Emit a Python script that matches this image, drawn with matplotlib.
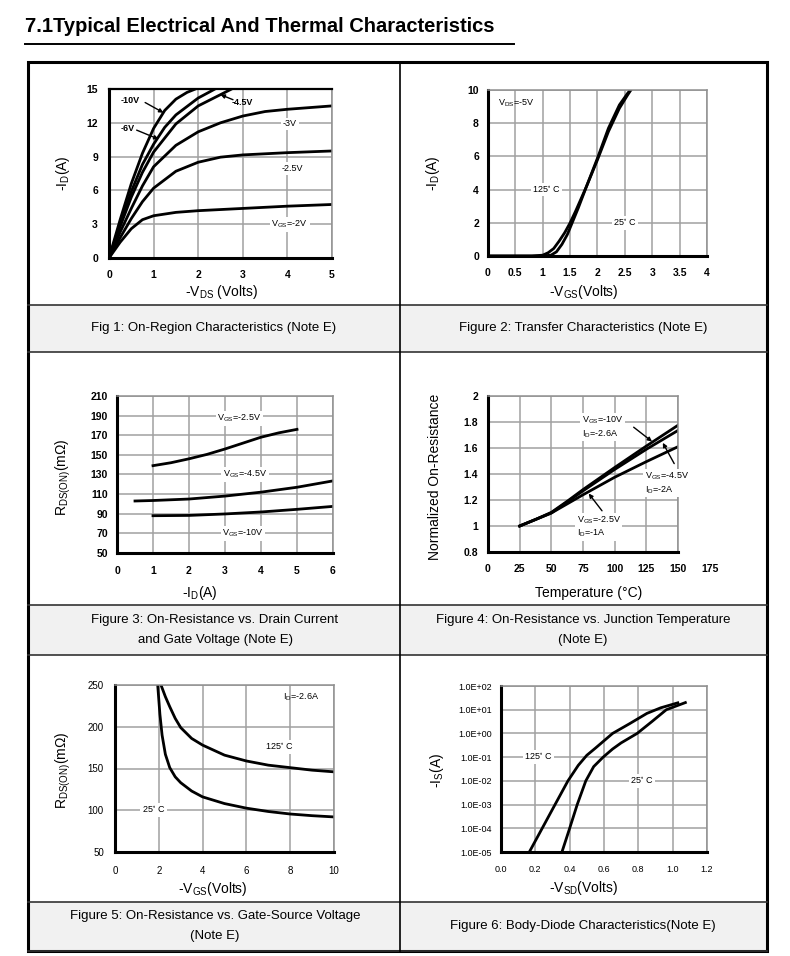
import numpy as np
import matplotlib
matplotlib.use("Agg")
import matplotlib.pyplot as plt
from matplotlib.lines import Line2D
from matplotlib.patches import Rectangle

plt.rcParams['font.family'] = ['Liberation Sans', 'DejaVu Sans']
plt.rcParams['mathtext.default'] = 'regular'

W, H = 790, 956

# ---- data ----
# fig 1: output characteristics, -ID vs -VDS
vds_2v = [0, 0.25, 0.5, 0.75, 1.0, 1.5, 2.0, 3.0, 4.0, 5.0]
id_2v = [0, 1.4, 2.6, 3.4, 3.75, 4.05, 4.2, 4.4, 4.6, 4.75]
vds_25v = [0, 0.25, 0.5, 0.75, 1.0, 1.5, 2.0, 2.5, 3.0, 4.0, 5.0]
id_25v = [0, 1.8, 3.5, 5.0, 6.2, 7.7, 8.5, 8.95, 9.15, 9.35, 9.5]
vds_3v = [0, 0.25, 0.5, 0.75, 1.0, 1.5, 2.0, 2.5, 3.0, 3.5, 4.0, 5.0]
id_3v = [0, 2.3, 4.4, 6.4, 8.1, 10.0, 11.2, 12.0, 12.6, 13.0, 13.2, 13.5]
vds_45v = [0, 0.25, 0.5, 0.75, 1.0, 1.5, 2.0, 2.5, 2.8]
id_45v = [0, 2.8, 5.4, 7.6, 9.4, 11.9, 13.5, 14.5, 15.1]
vds_6v = [0, 0.25, 0.5, 0.75, 1.0, 1.25, 1.5, 2.0, 2.4]
id_6v = [0, 3.0, 5.9, 8.3, 10.1, 11.6, 12.7, 14.2, 15.05]
vds_10v = [0, 0.25, 0.5, 0.75, 1.0, 1.25, 1.5, 1.75, 2.0]
id_10v = [0, 3.4, 6.6, 9.3, 11.5, 13.1, 14.1, 14.7, 15.1]

# fig 2: transfer characteristics
vgs_125 = [0, 0.8, 1.0, 1.1, 1.2, 1.3, 1.4, 1.5, 1.6, 1.8, 2.0, 2.2, 2.4, 2.55, 2.65]
id_125 = [0, 0, 0.05, 0.2, 0.45, 0.9, 1.4, 2.0, 2.7, 4.2, 5.8, 7.5, 8.9, 9.7, 10.2]
vgs_25 = [0, 1.0, 1.15, 1.25, 1.35, 1.45, 1.55, 1.65, 1.8, 2.0, 2.2, 2.4, 2.55, 2.65]
id_25 = [0, 0, 0.05, 0.25, 0.7, 1.3, 2.1, 2.9, 4.2, 5.9, 7.7, 9.1, 9.8, 10.2]

# fig 3: RDS(on) vs drain current
id_a25 = [1, 1.5, 2, 2.5, 3, 3.5, 4, 4.5, 5]
r_a25 = [139, 142, 146, 150.5, 156, 162, 168, 172.5, 176]
id_a45 = [0.5, 1, 2, 3, 4, 5, 6]
r_a45 = [103, 103.5, 105, 108, 112, 117, 123.5]
id_a10 = [1, 2, 3, 4, 5, 6]
r_a10 = [88, 88.3, 89.8, 91.8, 94.5, 97.5]

# fig 4: normalized on-resistance vs temperature
temp = [25, 37.5, 50, 62.5, 75, 100, 125, 150]
rn_10v = [1.0, 1.05, 1.105, 1.19, 1.28, 1.45, 1.615, 1.775]
rn_45v = [1.0, 1.05, 1.10, 1.185, 1.27, 1.435, 1.59, 1.735]
rn_25v = [1.0, 1.05, 1.10, 1.17, 1.24, 1.375, 1.495, 1.61]

# fig 5: RDS(on) vs VGS
vg_125 = [2.1, 2.3, 2.5, 2.75, 3, 3.5, 4, 5, 6, 7, 8, 9, 10]
rg_125 = [250, 236, 224, 210, 199, 186, 178, 166, 159, 154, 151, 148, 146]
vg_25 = [1.95, 2.05, 2.15, 2.3, 2.5, 2.75, 3, 3.5, 4, 5, 6, 7, 8, 9, 10]
rg_25 = [250, 215, 190, 167, 151, 140, 133, 123, 116, 108, 102.5, 98.5, 95.5, 93.5, 92]

# fig 6: body diode
vsd_125 = [0.165, 0.24, 0.305, 0.39, 0.45, 0.5, 0.55, 0.65, 0.75, 0.85, 0.93, 1.03]
is_125 = [1e-5, 1e-4, 7.4e-4, 1e-2, 4.5e-2, 0.12, 0.24, 1.0, 2.6, 7.0, 12, 19.5]
vsd_25 = [0.355, 0.40, 0.444, 0.494, 0.54, 0.595, 0.65, 0.7, 0.793, 0.88, 0.963, 1.074]
is_25 = [1e-5, 1e-4, 1e-3, 1e-2, 4e-2, 0.1, 0.22, 0.4, 1.0, 3.2, 10, 20]
is_decades = list(range(-5, 3))

captions = [
    "Fig 1: On-Region Characteristics (Note E)",
    "Figure 2: Transfer Characteristics (Note E)",
    "Figure 3: On-Resistance vs. Drain Current\nand Gate Voltage (Note E)",
    "Figure 4: On-Resistance vs. Junction Temperature\n(Note E)",
    "Figure 5: On-Resistance vs. Gate-Source Voltage\n(Note E)",
    "Figure 6: Body-Diode Characteristics(Note E)",
]


def fx(x):
    return x / W


def fy(y):
    return 1 - y / H


def make_ax(x0, y0, x1, y1):
    ax = fig.add_axes([fx(x0), fy(y1), (x1 - x0) / W, (y1 - y0) / H])
    ax.set_axisbelow(True)
    ax.grid(True, color='#a0a0a0', lw=1.1)
    for s in ['left', 'bottom']:
        ax.spines[s].set_linewidth(2.2)
        ax.spines[s].set_color('black')
    for s in ['top', 'right']:
        ax.spines[s].set_linewidth(1.1)
        ax.spines[s].set_color('#909090')
    return ax


def ticks(ax, xpad, ypad, size=7.5, weight='bold'):
    ax.tick_params(length=0, labelsize=size)
    ax.tick_params(axis='x', pad=xpad)
    ax.tick_params(axis='y', pad=ypad)
    for t in ax.get_xticklabels() + ax.get_yticklabels():
        t.set_fontweight(weight)


def labels(ax, xl, xpos, yl, ypos, size=10):
    ax.set_xlabel(xl, fontsize=size)
    ax.set_ylabel(yl, fontsize=size)
    ax.xaxis.set_label_coords(fx(xpos[0]), fy(xpos[1]), transform=fig.transFigure)
    ax.yaxis.set_label_coords(fx(ypos[0]), fy(ypos[1]), transform=fig.transFigure)
    ax.xaxis.label.set_va('center')
    ax.yaxis.label.set_va('center')


def tag(ax, x, y, s, size=6.5, **kw):
    ax.text(x, y, s, fontsize=size, ha='center', va='center',
            bbox=dict(facecolor='white', edgecolor='none', pad=1.2), **kw)


def arrow(ax, tail, tip):
    ax.annotate('', xy=tip, xytext=tail,
                arrowprops=dict(arrowstyle='-|>', color='black', lw=1.0,
                                mutation_scale=6, shrinkA=0, shrinkB=0))


fig = plt.figure(figsize=(W / 100, H / 100), dpi=100)

# ---- title and table frame ----
fig.text(fx(25), fy(27), "7.1Typical Electrical And Thermal Characteristics",
         fontsize=14.5, fontweight='bold', va='center', ha='left')
fig.add_artist(Line2D([fx(25), fx(514)], [fy(44), fy(44)], color='black', lw=1.4))

L, R, M = 28, 767, 400
T, B = 62, 951
rows = [(62, 305, 352), (352, 605, 655), (655, 902, 951)]
for (top, cap, bot) in rows:
    fig.add_artist(Rectangle((fx(L), fy(bot)), (R - L) / W, (bot - cap) / H,
                             facecolor='#f1f1f1', edgecolor='none'))
    fig.add_artist(Line2D([fx(L), fx(R)], [fy(cap), fy(cap)], color='#333333', lw=1.2))
    fig.add_artist(Line2D([fx(L), fx(R)], [fy(bot), fy(bot)], color='#333333', lw=1.2))
fig.add_artist(Line2D([fx(M), fx(M)], [fy(T), fy(B)], color='black', lw=1.2))
fig.add_artist(Rectangle((fx(L), fy(B)), (R - L) / W, (B - T) / H,
                         facecolor='none', edgecolor='black', lw=2.2))

cap_pos = [(214, 328), (583, 328), (215, 630), (583, 630), (215, 926), (583, 926)]
for s, (cx, cy) in zip(captions, cap_pos):
    fig.text(fx(cx), fy(cy), s, fontsize=9.5, ha='center', va='center',
             linespacing=1.9)

# ---- fig 1 ----
ax = make_ax(109, 89, 332, 258)
ax.spines['top'].set_color('black')
ax.spines['top'].set_linewidth(1.6)
for xs, ys in [(vds_2v, id_2v), (vds_25v, id_25v), (vds_3v, id_3v),
               (vds_45v, id_45v), (vds_6v, id_6v), (vds_10v, id_10v)]:
    ax.plot(xs, ys, color='black', lw=2)
ax.set_xlim(0, 5)
ax.set_ylim(0, 15)
ax.set_xticks(range(0, 6))
ax.set_yticks(range(0, 16, 3))
ticks(ax, 9, 8)
labels(ax, "-V$_{DS}$ (Volts)", (222, 292), "-I$_D$(A)", (63, 173))
ax.text(0.47, 14.0, "-10V", fontsize=6.5, fontweight='bold', ha='center', va='center')
arrow(ax, (0.81, 13.8), (1.22, 12.9))
ax.text(0.43, 11.5, "-6V", fontsize=6.5, fontweight='bold', ha='center', va='center')
arrow(ax, (0.62, 11.35), (1.11, 10.55))
ax.text(3.0, 13.8, "-4.5V", fontsize=6.5, fontweight='bold', ha='center', va='center')
arrow(ax, (2.78, 14.05), (2.5, 14.5))
tag(ax, 4.06, 11.9, "-3V")
tag(ax, 4.1, 7.95, "-2.5V")
tag(ax, 4.05, 3.0, "V$_{GS}$=-2V")

# ---- fig 2 ----
ax = make_ax(488, 90, 707, 256)
ax.plot(vgs_125, id_125, color='black', lw=2)
ax.plot(vgs_25, id_25, color='black', lw=2)
ax.set_xlim(0, 4)
ax.set_ylim(0, 10)
ax.set_xticks(np.arange(0, 4.01, 0.5))
ax.set_xticklabels(['0', '0.5', '1', '1.5', '2', '2.5', '3', '3.5', '4'])
ax.set_yticks(range(0, 11, 2))
ticks(ax, 9, 6.5)
labels(ax, "-V$_{GS}$(Volts)", (584, 292), "-I$_D$(A)", (433, 173))
ax.text(0.52, 9.2, "V$_{DS}$=-5V", fontsize=6.5, ha='center', va='center')
tag(ax, 1.07, 4.0, "125$^{\\circ}$ C")
tag(ax, 2.5, 2.0, "25$^{\\circ}$ C")

# ---- fig 3 ----
ax = make_ax(117, 396, 333, 553)
ax.plot(id_a25, r_a25, color='black', lw=2)
ax.plot(id_a45, r_a45, color='black', lw=2)
ax.plot(id_a10, r_a10, color='black', lw=2)
ax.set_xlim(0, 6)
ax.set_ylim(50, 210)
ax.set_xticks(range(0, 7))
ax.set_yticks(range(50, 211, 20))
ticks(ax, 9, 6.5)
labels(ax, "-I$_D$(A)", (200, 593), "R$_{DS(ON)}$(m\u03a9)", (63, 477))
tag(ax, 3.4, 187, "V$_{GS}$=-2.5V")
tag(ax, 3.55, 130, "V$_{GS}$=-4.5V")
tag(ax, 3.5, 70, "V$_{GS}$=-10V")

# ---- fig 4 ----
ax = make_ax(488, 396, 678, 552)
ax.plot(temp, rn_10v, color='black', lw=2)
ax.plot(temp, rn_45v, color='black', lw=2)
ax.plot(temp, rn_25v, color='black', lw=2)
ax.set_xlim(0, 150)
ax.set_ylim(0.8, 2)
ax.set_xticks(range(0, 151, 25))
ax.set_yticks([0.8, 1, 1.2, 1.4, 1.6, 1.8, 2])
ax.set_yticklabels(['0.8', '1', '1.2', '1.4', '1.6', '1.8', '2'])
ticks(ax, 8.5, 7)
# the reference prints a 175 label past the right edge of the plot area
ax.annotate("175", xy=(175, 0), xycoords=ax.get_xaxis_transform(),
            xytext=(0, -8.5), textcoords='offset points', fontsize=7.5,
            fontweight='bold', ha='center', va='top', annotation_clip=False)
labels(ax, "Temperature (\u00b0C)", (589, 593), "Normalized On-Resistance", (435, 477))
box = dict(facecolor='white', edgecolor='none', pad=1.2)
ax.text(74, 1.76, "V$_{GS}$=-10V\nI$_D$=-2.6A", fontsize=6.5, ha='left', va='center',
        linespacing=1.1, bbox=box)
arrow(ax, (115, 1.76), (129.5, 1.65))
ax.text(124, 1.33, "V$_{GS}$=-4.5V\nI$_D$=-2A", fontsize=6.5, ha='left', va='center',
        linespacing=1.1, bbox=box)
arrow(ax, (147, 1.48), (138, 1.64))
ax.text(70, 0.995, "V$_{GS}$=-2.5V\nI$_D$=-1A", fontsize=6.5, ha='left', va='center',
        linespacing=1.1, bbox=box)
arrow(ax, (90, 1.117), (79.5, 1.25))

# ---- fig 5 ----
ax = make_ax(115, 685, 334, 852)
ax.plot(vg_125, rg_125, color='black', lw=2)
ax.plot(vg_25, rg_25, color='black', lw=2)
ax.set_xlim(0, 10)
ax.set_ylim(50, 250)
ax.set_xticks(range(0, 11, 2))
ax.set_yticks(range(50, 251, 50))
ticks(ax, 10, 8, size=7, weight='normal')
labels(ax, "-V$_{GS}$(Volts)", (213, 889), "R$_{DS(ON)}$(m\u03a9)", (63, 770))
ax.text(8.5, 236.5, "I$_D$=-2.6A", fontsize=6.5, ha='center', va='center')
tag(ax, 7.5, 176, "125$^{\\circ}$ C")
tag(ax, 1.75, 100, "25$^{\\circ}$ C")

# ---- fig 6 ----
ax = make_ax(501, 686, 707, 852)
ax.set_yscale('log')
ax.plot(vsd_125, is_125, color='black', lw=2)
ax.plot(vsd_25, is_25, color='black', lw=2)
ax.set_xlim(0, 1.2)
ax.set_ylim(1e-5, 1e2)
ax.set_xticks(np.arange(0, 1.21, 0.2))
ax.set_xticklabels(['0.0', '0.2', '0.4', '0.6', '0.8', '1.0', '1.2'])
ax.set_yticks([10.0 ** k for k in is_decades])
ax.set_yticklabels(['1.0E%s%02d' % ('+' if k >= 0 else '-', abs(k)) for k in is_decades])
ax.minorticks_off()
ax.grid(True, which='major', color='#a0a0a0', lw=1.1)
ticks(ax, 9.5, 6.5, size=6.5, weight='normal')
labels(ax, "-V$_{SD}$(Volts)", (584, 888), "-I$_S$(A)", (437, 770))
tag(ax, 0.217, 0.1, "125$^{\\circ}$ C")
tag(ax, 0.82, 1e-2, "25$^{\\circ}$ C")

fig.savefig("out.png", dpi=100)
